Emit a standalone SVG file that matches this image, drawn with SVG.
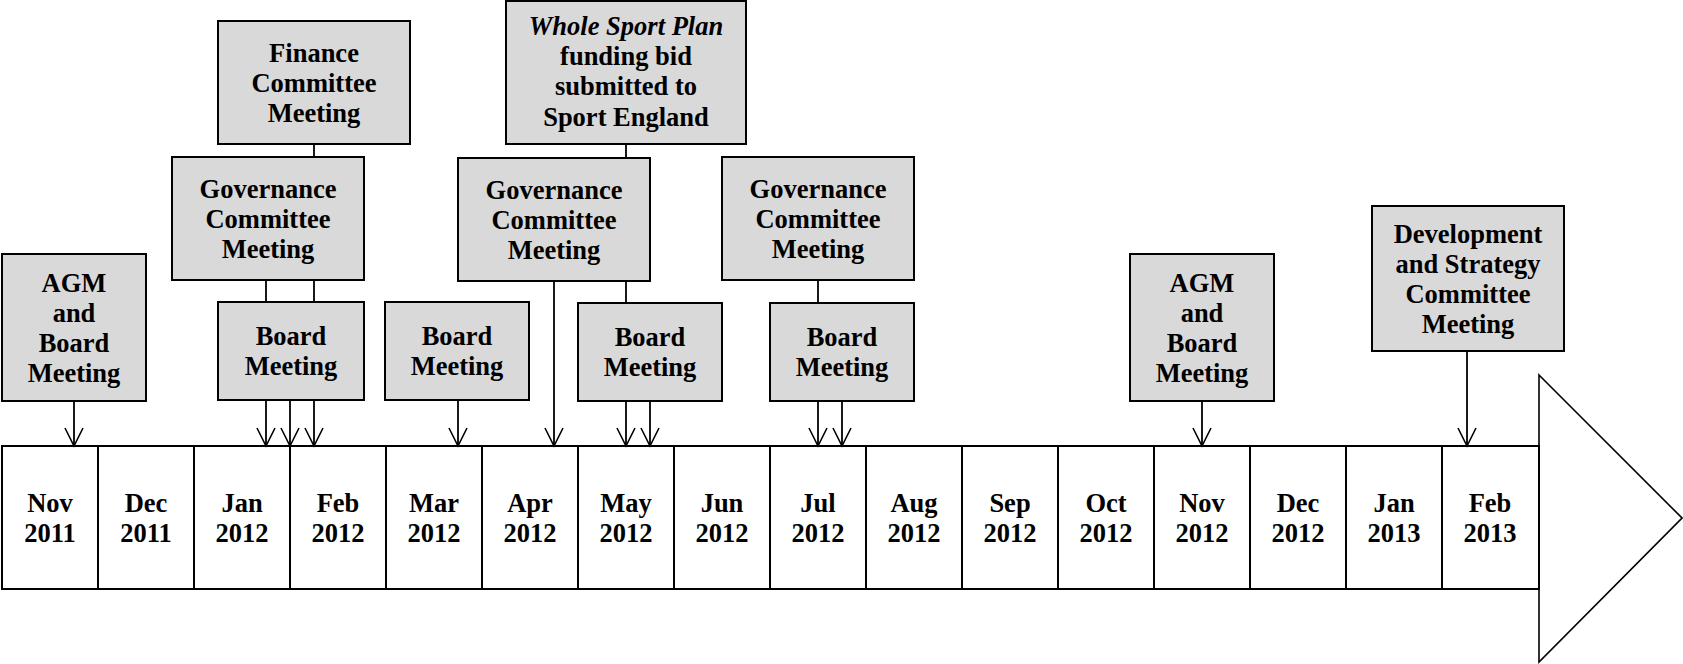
<svg xmlns="http://www.w3.org/2000/svg" width="1683" height="664" viewBox="0 0 1683 664">
<defs>
<marker id="vee" markerUnits="userSpaceOnUse" markerWidth="24" markerHeight="24" viewBox="-21 -12 24 24" refX="0" refY="0" orient="auto">
<path d="M -18 -9 L 0 0 L -18 9" fill="none" stroke="#000" stroke-width="1.6"/>
</marker>
</defs>
<style>
.box{fill:#d9d9d9;stroke:#000;stroke-width:2}
.cell{fill:#fff;stroke:#000;stroke-width:2}
.t{font-family:"Liberation Serif","Times New Roman",serif;font-weight:bold;font-size:26.5px;text-anchor:middle;fill:#000}
.ln{stroke:#000;stroke-width:1.8;fill:none}
.ar{stroke:#000;stroke-width:1.8;fill:none;marker-end:url(#vee)}
</style>
<rect width="1683" height="664" fill="#fff"/>

<g id="timeline">
<polygon points="1539,375 1682,518 1539,662" fill="#fff" stroke="#000" stroke-width="1.6"/>
<rect class="cell" x="2" y="446" width="1537" height="143"/>
<g stroke="#000" stroke-width="2">
<line x1="98" y1="446" x2="98" y2="589"/>
<line x1="194" y1="446" x2="194" y2="589"/>
<line x1="290" y1="446" x2="290" y2="589"/>
<line x1="386" y1="446" x2="386" y2="589"/>
<line x1="482" y1="446" x2="482" y2="589"/>
<line x1="578" y1="446" x2="578" y2="589"/>
<line x1="674" y1="446" x2="674" y2="589"/>
<line x1="770" y1="446" x2="770" y2="589"/>
<line x1="866" y1="446" x2="866" y2="589"/>
<line x1="962" y1="446" x2="962" y2="589"/>
<line x1="1058" y1="446" x2="1058" y2="589"/>
<line x1="1154" y1="446" x2="1154" y2="589"/>
<line x1="1250" y1="446" x2="1250" y2="589"/>
<line x1="1346" y1="446" x2="1346" y2="589"/>
<line x1="1442" y1="446" x2="1442" y2="589"/>
</g>
<g class="t">
<text x="50" y="512">Nov</text><text x="50" y="542">2011</text>
<text x="146" y="512">Dec</text><text x="146" y="542">2011</text>
<text x="242" y="512">Jan</text><text x="242" y="542">2012</text>
<text x="338" y="512">Feb</text><text x="338" y="542">2012</text>
<text x="434" y="512">Mar</text><text x="434" y="542">2012</text>
<text x="530" y="512">Apr</text><text x="530" y="542">2012</text>
<text x="626" y="512">May</text><text x="626" y="542">2012</text>
<text x="722" y="512">Jun</text><text x="722" y="542">2012</text>
<text x="818" y="512">Jul</text><text x="818" y="542">2012</text>
<text x="914" y="512">Aug</text><text x="914" y="542">2012</text>
<text x="1010" y="512">Sep</text><text x="1010" y="542">2012</text>
<text x="1106" y="512">Oct</text><text x="1106" y="542">2012</text>
<text x="1202" y="512">Nov</text><text x="1202" y="542">2012</text>
<text x="1298" y="512">Dec</text><text x="1298" y="542">2012</text>
<text x="1394" y="512">Jan</text><text x="1394" y="542">2013</text>
<text x="1490" y="512">Feb</text><text x="1490" y="542">2013</text>
</g>
</g>

<g id="connectors">
<line class="ln" x1="314" y1="144" x2="314" y2="157"/>
<line class="ln" x1="266" y1="280" x2="266" y2="302"/>
<line class="ln" x1="314" y1="280" x2="314" y2="302"/>
<line class="ar" x1="74" y1="401" x2="74" y2="446"/>
<line class="ar" x1="266" y1="400" x2="266" y2="446"/>
<line class="ar" x1="290" y1="400" x2="290" y2="446"/>
<line class="ar" x1="314" y1="400" x2="314" y2="446"/>
<line class="ar" x1="458" y1="400" x2="458" y2="446"/>
<line class="ln" x1="626" y1="144" x2="626" y2="158"/>
<line class="ar" x1="554" y1="281" x2="554" y2="446"/>
<line class="ln" x1="626" y1="281" x2="626" y2="303"/>
<line class="ar" x1="626" y1="401" x2="626" y2="446"/>
<line class="ar" x1="650" y1="401" x2="650" y2="446"/>
<line class="ln" x1="818" y1="280" x2="818" y2="303"/>
<line class="ar" x1="818" y1="401" x2="818" y2="446"/>
<line class="ar" x1="842" y1="401" x2="842" y2="446"/>
<line class="ar" x1="1202" y1="401" x2="1202" y2="446"/>
<line class="ar" x1="1467" y1="351" x2="1467" y2="446"/>
</g>

<g id="agm1">
<rect class="box" x="2" y="254" width="144" height="147"/>
<text class="t" x="74" y="292">AGM</text>
<text class="t" x="74" y="322">and</text>
<text class="t" x="74" y="352">Board</text>
<text class="t" x="74" y="382">Meeting</text>
</g>

<g id="finance">
<rect class="box" x="218" y="21" width="192" height="123"/>
<text class="t" x="314" y="62">Finance</text>
<text class="t" x="314" y="92">Committee</text>
<text class="t" x="314" y="122">Meeting</text>
</g>

<g id="gov1">
<rect class="box" x="172" y="157" width="192" height="123"/>
<text class="t" x="268" y="198">Governance</text>
<text class="t" x="268" y="228">Committee</text>
<text class="t" x="268" y="258">Meeting</text>
</g>

<g id="board1">
<rect class="box" x="218" y="302" width="146" height="98"/>
<text class="t" x="291" y="345">Board</text>
<text class="t" x="291" y="375">Meeting</text>
</g>

<g id="board2">
<rect class="box" x="385" y="302" width="144" height="98"/>
<text class="t" x="457" y="345">Board</text>
<text class="t" x="457" y="375">Meeting</text>
</g>

<g id="wsp">
<rect class="box" x="506" y="1" width="240" height="143"/>
<text class="t" x="626" y="35"><tspan font-style="italic">Whole Sport Plan</tspan></text>
<text class="t" x="626" y="65">funding bid</text>
<text class="t" x="626" y="95">submitted to</text>
<text class="t" x="626" y="126">Sport England</text>
</g>

<g id="gov2">
<rect class="box" x="458" y="158" width="192" height="123"/>
<text class="t" x="554" y="199">Governance</text>
<text class="t" x="554" y="229">Committee</text>
<text class="t" x="554" y="259">Meeting</text>
</g>

<g id="board3">
<rect class="box" x="578" y="303" width="144" height="98"/>
<text class="t" x="650" y="346">Board</text>
<text class="t" x="650" y="376">Meeting</text>
</g>

<g id="gov3">
<rect class="box" x="722" y="157" width="192" height="123"/>
<text class="t" x="818" y="198">Governance</text>
<text class="t" x="818" y="228">Committee</text>
<text class="t" x="818" y="258">Meeting</text>
</g>

<g id="board4">
<rect class="box" x="770" y="303" width="144" height="98"/>
<text class="t" x="842" y="346">Board</text>
<text class="t" x="842" y="376">Meeting</text>
</g>

<g id="agm2">
<rect class="box" x="1130" y="254" width="144" height="147"/>
<text class="t" x="1202" y="292">AGM</text>
<text class="t" x="1202" y="322">and</text>
<text class="t" x="1202" y="352">Board</text>
<text class="t" x="1202" y="382">Meeting</text>
</g>

<g id="dev">
<rect class="box" x="1372" y="206" width="192" height="145"/>
<text class="t" x="1468" y="243">Development</text>
<text class="t" x="1468" y="273">and Strategy</text>
<text class="t" x="1468" y="303">Committee</text>
<text class="t" x="1468" y="333">Meeting</text>
</g>
</svg>
